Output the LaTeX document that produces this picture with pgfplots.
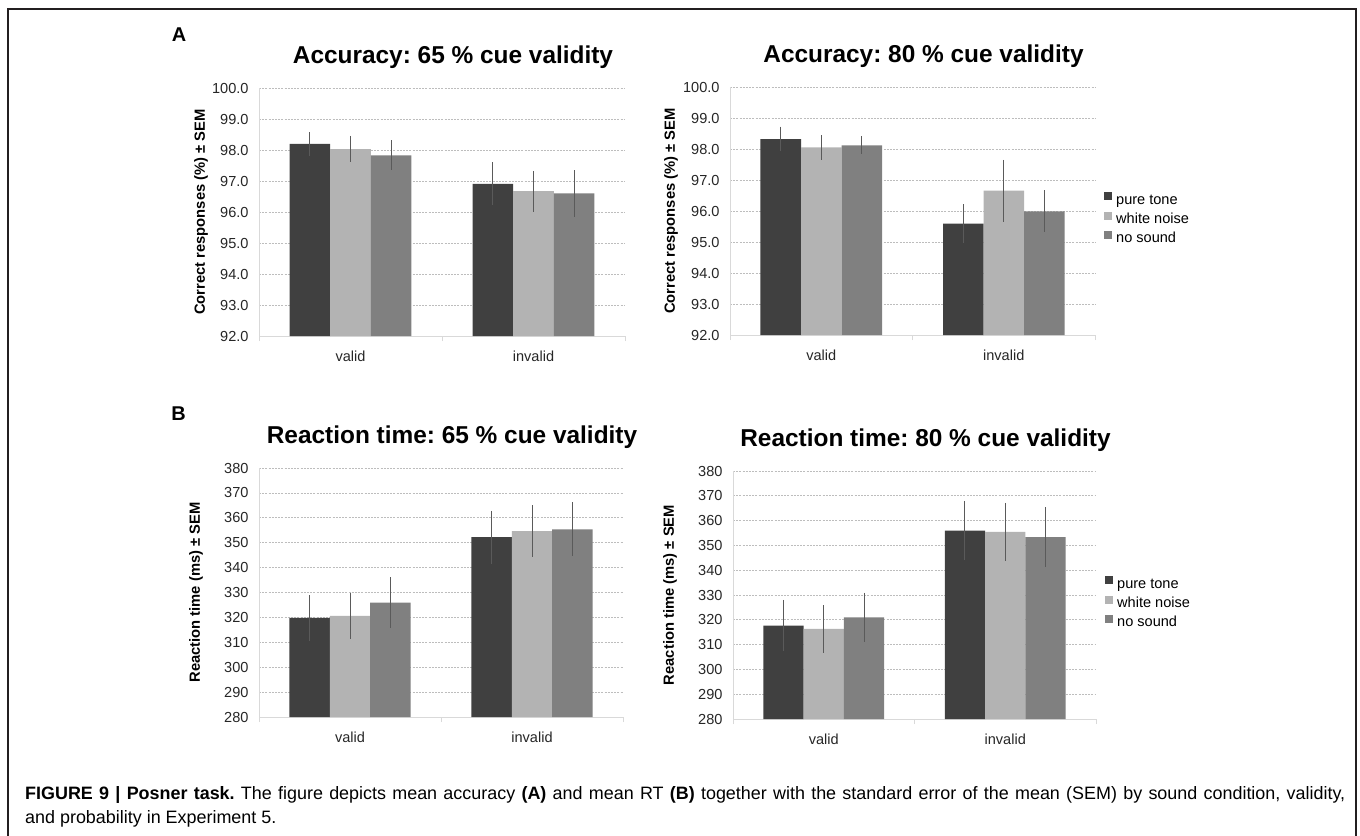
\documentclass[border=0pt]{standalone}
\usepackage{fontspec}
\setmainfont{Liberation Sans}
\usepackage{pgfplots}
\pgfplotsset{compat=1.18}
\frenchspacing

\definecolor{cDark}{HTML}{404040}
\definecolor{cLight}{HTML}{B3B3B3}
\definecolor{cMid}{HTML}{808080}
\definecolor{cErr}{HTML}{5A5A5A}
\definecolor{cGrid}{HTML}{BDBDBD}
\definecolor{cAxis}{HTML}{D9D9D9}
\definecolor{cFrame}{HTML}{231F20}

\newcommand\tickfont{\fontsize{14.6}{17}\selectfont}

\pgfplotsset{
  panel/.style={
    scale only axis, anchor=south west,
    ybar=0pt, bar width=0.222,
    xmin=-0.5, xmax=1.5, enlargelimits=false,
    xtick={0,1}, xticklabels={valid,invalid},
    xtick style={draw=none},
    extra x ticks={-0.5,0.5,1.5}, extra x tick labels={},
    extra x tick style={major tick length=5bp, tick align=outside,
      xtick style={draw=cAxis, line width=1bp}},
    ytick style={draw=none},
    axis x line*=bottom, axis y line*=left,
    axis line style={-, draw=cAxis, line width=1bp},
    ymajorgrids,
    major grid style={cGrid, line width=0.8bp, dash pattern=on 2bp off 1.2bp},
    tick label style={font=\tickfont, text=black!85},
    /pgf/number format/assume math mode=true,
    xticklabel style={yshift=-7bp},
    yticklabel style={xshift=-7bp},
    title style={font=\bfseries\fontsize{24.5}{28}\selectfont, anchor=center,
      at={([xshift=11bp,yshift=25bp]axis description cs:0.5,1)}},
    ylabel style={font=\bfseries\fontsize{14.8}{17}\selectfont, anchor=center},
  },
  acc/.style={ymin=92, ymax=100, ytick={92,93,...,100},
    yticklabel style={/pgf/number format/.cd, fixed, fixed zerofill, precision=1},
    ylabel={Correct responses (\%) ± SEM}},
  rt/.style={ymin=280, ymax=380, ytick={280,290,...,380},
    ylabel={Reaction time (ms) ± SEM}},
  errs/.style={error bars/.cd, y dir=both, y explicit, error mark=none,
    error bar style={draw=cErr, line width=1bp, solid}},
  leg/.style={
    legend image code/.code={%
      \path[##1, draw=none] (0bp,0bp) rectangle (8bp,8bp);
      \path (12bp,4bp);},
    legend cell align=left,
    legend style={at={(axis description cs:1,0.5)}, anchor=west,
      xshift=9bp, yshift=-8bp, draw=none, fill=none, inner sep=0pt,
      font=\tickfont, row sep=4.3bp,
      nodes={inner sep=0pt, text height=11bp, text depth=3bp}},
  },
}

\begin{document}
\begin{tikzpicture}[x=1bp, y=1bp]
\path[use as bounding box] (0,0) rectangle (1360,-835);
\draw[cFrame, line width=2bp] (8,-850) -- (8,-9) -- (1356,-9) -- (1356,-850);

\node[font=\bfseries\fontsize{20}{24}\selectfont] at (179,-35) {A};
\node[font=\bfseries\fontsize{20}{24}\selectfont] at (178.5,-414) {B};

% A: accuracy, 65 % cue validity
\begin{axis}[panel, acc, at={(259bp,-336bp)}, width=366bp, height=248bp,
  title={Accuracy: 65 \% cue validity},
  ylabel style={at={([xshift=-58bp]axis description cs:0,0.5)}}]
\addplot[fill=cDark, draw=none, errs] coordinates {(0,98.20) +- (0,0.38) (1,96.91) +- (0,0.70)};
\addplot[fill=cLight, draw=none, errs] coordinates {(0,98.03) +- (0,0.43) (1,96.67) +- (0,0.66)};
\addplot[fill=cMid, draw=none, errs] coordinates {(0,97.83) +- (0,0.48) (1,96.60) +- (0,0.75)};
\end{axis}

% A: accuracy, 80 % cue validity
\begin{axis}[panel, acc, leg, at={(730bp,-335bp)}, width=365bp, height=248bp,
  title={Accuracy: 80 \% cue validity},
  ylabel style={at={([xshift=-59bp]axis description cs:0,0.5)}}]
\addplot[fill=cDark, draw=none, errs] coordinates {(0,98.32) +- (0,0.40) (1,95.59) +- (0,0.63)};
\addplot[fill=cLight, draw=none, errs] coordinates {(0,98.05) +- (0,0.40) (1,96.66) +- (0,1.00)};
\addplot[fill=cMid, draw=none, errs] coordinates {(0,98.12) +- (0,0.29) (1,95.99) +- (0,0.68)};
\legend{pure tone, white noise, no sound}
\end{axis}

% B: reaction time, 65 % cue validity
\begin{axis}[panel, rt, at={(259bp,-717bp)}, width=364bp, height=249bp,
  title={Reaction time: 65 \% cue validity},
  ylabel style={at={([xshift=-63bp]axis description cs:0,0.5)}}]
\addplot[fill=cDark, draw=none, errs] coordinates {(0,319.8) +- (0,9.1) (1,352.2) +- (0,10.6)};
\addplot[fill=cLight, draw=none, errs] coordinates {(0,320.6) +- (0,9.4) (1,354.7) +- (0,10.3)};
\addplot[fill=cMid, draw=none, errs] coordinates {(0,325.9) +- (0,10.3) (1,355.4) +- (0,10.9)};
\end{axis}

% B: reaction time, 80 % cue validity
\begin{axis}[panel, rt, leg, at={(733bp,-719bp)}, width=363bp, height=248bp,
  title={Reaction time: 80 \% cue validity},
  ylabel style={at={([xshift=-63bp]axis description cs:0,0.5)}}]
\addplot[fill=cDark, draw=none, errs] coordinates {(0,317.7) +- (0,10.3) (1,356.0) +- (0,12.0)};
\addplot[fill=cLight, draw=none, errs] coordinates {(0,316.3) +- (0,9.5) (1,355.5) +- (0,11.8)};
\addplot[fill=cMid, draw=none, errs] coordinates {(0,321.0) +- (0,10.0) (1,353.3) +- (0,12.0)};
\legend{pure tone, white noise, no sound}
\end{axis}

\node[anchor=base west, font=\fontsize{18}{22}\selectfont, inner sep=0pt] at (25,-799)
  {\makebox[1320bp][s]{\textbf{FIGURE 9 | Posner task.} The figure depicts mean accuracy \textbf{(A)} and mean RT \textbf{(B)} together with the standard error of the mean (SEM) by sound condition, validity,}};
\node[anchor=base west, font=\fontsize{18}{22}\selectfont, inner sep=0pt] at (25,-823)
  {and probability in Experiment 5.};
\end{tikzpicture}
\end{document}
